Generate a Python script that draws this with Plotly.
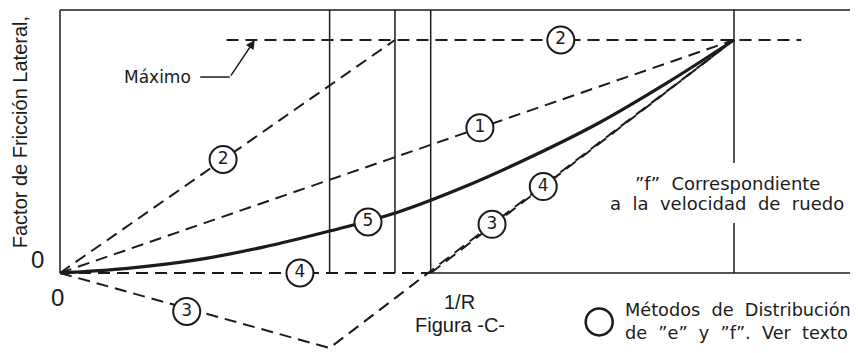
import plotly.graph_objects as go

# ---- data (x: 1/R normalised, y: friction factor normalised; 1 = maximum) ----
x_apex = 1.0
f_max = 1.0
frame_top = 1.129
x_right_edge = 1.2

vertical_lines_x = [0.40, 0.497, 0.55]

m1_x = [0.0, 1.0]
m1_y = [0.0, 1.0]

m2_x = [0.0, 0.497]
m2_y = [0.0, 1.0]
max_line_x = [0.247, 1.10]
max_line_y = [1.0, 1.0]

m3_x = [0.0, 0.40, 1.0]
m3_y = [0.0, -0.322, 1.0]

m4_x = [0.0, 0.55, 1.0]
m4_y = [0.0, 0.0, 1.0]

m5_x = [0.0, 0.1, 0.2, 0.3, 0.4, 0.5, 0.6, 0.7, 0.8, 0.9, 1.0]
m5_y = [0.0, 0.02, 0.055, 0.11, 0.18, 0.26, 0.37, 0.50, 0.645, 0.815, 1.0]

label_text = ["2", "2", "1", "5", "4", "4", "3", "3"]
label_x = [0.242, 0.743, 0.623, 0.457, 0.356, 0.717, 0.188, 0.641]
label_y = [0.487, 1.0, 0.623, 0.219, 0.0, 0.371, -0.165, 0.209]

INK = "#1b1b1b"
DASH = "12px,7px"
CAD_FONT = "DejaVu Sans"
ARIAL = "Liberation Sans"

fig = go.Figure()

def seg(x, y, width=1.5, dash="solid", color=INK, shape="linear"):
    fig.add_trace(go.Scatter(x=x, y=y, mode="lines",
                             line=dict(color=color, width=width, dash=dash, shape=shape),
                             hoverinfo="skip", showlegend=False))

# frame
seg([0, x_right_edge], [frame_top, frame_top])
seg([0, 0], [0, frame_top])
seg([m4_x[1], x_right_edge], [0, 0])
for vx in vertical_lines_x:
    seg([vx, vx], [0, frame_top])
seg([x_apex, x_apex], [frame_top, 0.472])
seg([x_apex, x_apex], [0.215, 0])

# methods
seg(max_line_x, max_line_y, width=2, dash=DASH)
seg(m1_x, m1_y, width=2, dash=DASH)
seg(m2_x, m2_y, width=2, dash=DASH)
seg(m3_x, m3_y, width=2, dash=DASH)
seg(m4_x[:2], m4_y[:2], width=2, dash=DASH)
seg(m4_x[1:], m4_y[1:], width=2, dash=DASH)
seg(m5_x, m5_y, width=3.2, shape="spline")

# circled labels
fig.add_trace(go.Scatter(
    x=label_x, y=label_y, mode="markers+text", text=label_text,
    textposition="middle center",
    textfont=dict(family=CAD_FONT, size=17, color=INK),
    marker=dict(symbol="circle", size=27, color="white", line=dict(color=INK, width=2)),
    hoverinfo="skip", showlegend=False))

# legend circle
fig.add_trace(go.Scatter(
    x=[0.80], y=[-0.210], mode="markers",
    marker=dict(symbol="circle", size=27, color="white", line=dict(color=INK, width=2.5)),
    hoverinfo="skip", showlegend=False))

# "Máximo" leader
seg([0.208, 0.252], [0.841, 0.841], width=1.5)
fig.add_annotation(x=0.289, y=1.0, ax=0.252, ay=0.841, axref="x", ayref="y",
                   xref="x", yref="y", text="", showarrow=True,
                   arrowhead=2, arrowsize=1.2, arrowwidth=1.5, arrowcolor=INK)

def txt(x, y, s, size, family=CAD_FONT, xanchor="center", angle=0):
    fig.add_annotation(x=x, y=y, xref="x", yref="y", text=s, showarrow=False,
                       xanchor=xanchor, yanchor="middle", textangle=angle,
                       font=dict(family=family, size=size, color=INK))

NB = "\u00a0"
txt(0.197, 0.841, "Máximo", 17, xanchor="right")
txt(0.990, 0.386, "”f”" + NB * 2 + "Correspondiente", 18)
txt(0.990, 0.300, ("a" + NB * 2 + "la" + NB * 2 + "velocidad" + NB * 2 + "de" + NB * 2 + "ruedo"), 18)
txt(0.835, -0.159, "Métodos" + NB * 2 + "de" + NB * 2 + "Distribución", 17.7, xanchor="left")
txt(0.835, -0.258, "de" + NB * 2 + "”e”" + NB * 2 + "y" + NB * 2 + "”f”." + NB * 2 + "Ver" + NB * 2 + "texto", 17.7, xanchor="left")
txt(0.593, -0.124, "1/R", 20, family=ARIAL)
txt(0.593, -0.223, "Figura -C-", 20, family=ARIAL)
txt(-0.034, 0.056, "0", 24, family=ARIAL)
txt(-0.003, -0.103, "0", 24, family=ARIAL)
txt(-0.059, 0.605, "Factor de Fricción Lateral,", 20, family=ARIAL, angle=-90)

# the page body adds an 8px margin; the figure covers page pixels 8..858 x 8..353
fig.update_layout(
    width=850, height=345,
    margin=dict(l=0, r=0, t=0, b=0),
    paper_bgcolor="white", plot_bgcolor="white",
    xaxis=dict(range=[(8 - 60) / 674, 798 / 674], visible=False, fixedrange=True),
    yaxis=dict(range=[-80 / 233, (273 - 8) / 233], visible=False, fixedrange=True),
    showlegend=False,
)

fig.write_html("out.html")
